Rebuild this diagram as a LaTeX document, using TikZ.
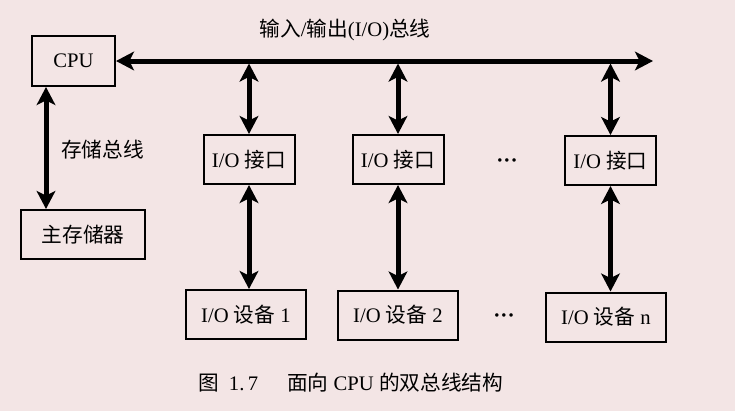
\documentclass[tikz,border=0pt]{standalone}
\usepackage{fontspec}
\setmainfont{Liberation Serif}
\newfontfamily\cjk{Noto Sans CJK SC}
\usetikzlibrary{arrows.meta,calc}
\definecolor{bgpink}{RGB}{243,229,229}
\begin{document}
\begin{tikzpicture}[x=0.75pt,y=-0.75pt,
  box/.style={draw=black,line width=1.5pt,inner sep=0pt,font=\fontsize{15.5}{18}\selectfont},
  biarrow/.style={line width=3.75pt,{Stealth[length=13.5pt,width=14pt,inset=3.5pt]}-{Stealth[length=13.5pt,width=14pt,inset=3.5pt]}},
  lbl/.style={inner sep=0pt,font=\fontsize{15.5}{18}\selectfont},
  dotsl/.style={inner sep=0pt,font=\fontsize{16}{18}\selectfont\bfseries}]
\fill[bgpink] (0,0) rectangle (735,411);
\useasboundingbox (0,0) rectangle (735,411);
% nodes
\node[box,minimum width=62.25pt,minimum height=37.5pt] (cpu) at (73.5,61) {CPU};
\node[box,minimum width=93pt,minimum height=36.75pt] (mem) at (83,234.5) {\cjk 主存储器};
\node[box,minimum width=68.25pt,minimum height=36.75pt] (i1) at (249,159.5) {I/O {\cjk 接口}};
\node[box,minimum width=68.25pt,minimum height=36.75pt] (i2) at (398,159.5) {I/O {\cjk 接口}};
\node[box,minimum width=68.25pt,minimum height=36.75pt] (i3) at (610.5,160.5) {I/O {\cjk 接口}};
\node[box,minimum width=90pt,minimum height=36.75pt] (d1) at (246,314.5) {I/O {\cjk 设备} 1};
\node[box,minimum width=90pt,minimum height=36.75pt] (d2) at (398,315) {I/O {\cjk 设备} 2};
\node[box,minimum width=90pt,minimum height=36.75pt] (d3) at (606,317) {I/O {\cjk 设备} n};
\node[dotsl] (dt1) at (507,163) {···};
\node[dotsl] (dt2) at (504,318) {···};
% labels
\node[lbl] (buslbl) at (345,30) {{\cjk 输入}/{\cjk 输出}(I/O){\cjk 总线}};
\node[lbl,anchor=west] (memlbl) at (61,150) {\cjk 存储总线};
\node[inner sep=0pt,font=\fontsize{15.5}{18}\selectfont] (cap) at (351,383) {{\cjk 图}\hspace{0.45em}1.\,7\hspace{1.4em}{\cjk 面向} CPU {\cjk 的双总线结构}};
% bus
\coordinate (busR) at (653,61);
\draw[biarrow] (cpu.east) -- (busR);
% bus to interfaces
\draw[biarrow,shorten >=1.9pt] (i1.north) -- (i1.north |- busR);
\draw[biarrow,shorten >=1.9pt] (i2.north) -- (i2.north |- busR);
\draw[biarrow,shorten >=1.9pt] (i3.north) -- (i3.north |- busR);
% interfaces to devices
\draw[biarrow] (i1.south) -- (i1.south |- d1.north);
\draw[biarrow] (i2.south) -- (i2.south |- d2.north);
\draw[biarrow] (i3.south) -- (i3.south |- d3.north);
% cpu to memory
\draw[biarrow] ([xshift=11.25pt]cpu.south west) -- ([xshift=11.25pt]cpu.south west |- mem.north);
\end{tikzpicture}
\end{document}
